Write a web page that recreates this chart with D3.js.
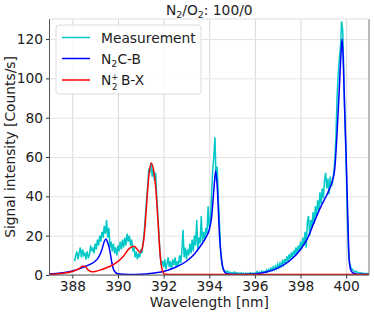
<!DOCTYPE html>
<html><head><meta charset="utf-8">
<script src="https://cdn.jsdelivr.net/npm/d3@7"></script>
<style>body{margin:0;background:#fff} text{font-family:"DejaVu Sans",sans-serif}</style>
</head><body><svg id="c" width="374" height="312"></svg>
<script>
const xTicks=[388,390,392,394,396,398,400];
const yTicks=[0,20,40,60,80,100,120];
const seriesNames=["Measurement","N2C-B","N2+ B-X"];
const measStart=388.1, measStep=0.05;
const measurement=[
7,10,12,8,11,14,9,13,10,11,8,12,9,10,15,12,14,11,16,13,
18,15,20,17,22,19,25,21,28,19,24,14,17,12,16,11,14,10,15,12,
17,13,18,14,19,15,21,17,20,15,18,12,14,9,12,8,11,9,13,11,
16,22,30,38,45,54,52,57,50,54,48,52,40,30,20,10,5,7,4,8,
3,6,9,4,7,3,8,5,9,4,7,5,10,6,12,23,9,14,8,13,
10,16,11,18,12,20,15,28,13,19,16,30,17,22,18,24,21,35,24,28,
40,53,60,70,48,55,38,26,12,6,3,2.5,2,1.5,2,1,1.5,1,
1.2,0.8,1.5,0.7,1.2,0.6,1.0,0.5,1.1,0.6,0.9,0.4,1.0,0.6,0.8,0.5,1.2,0.7,1.0,0.6,
1.1,0.8,1.8,0.9,1.4,1.0,2.0,1.2,1.8,1.3,2.5,1.6,2.8,2.0,3.5,2.2,4.0,2.8,4.5,3.2,
5.5,3.8,6.0,4.5,7.0,5.2,8.0,6.0,9.5,7.0,10.5,8.0,11.5,9.0,12.5,10.0,14,11,15,12,
17,13,19,15,22,14,27,30,20,28,24,32,26,35,30,38,33,42,36,44,
39,48,52,44,49,41,50,45,47,52,58,70,90,102,110,116,129,124,100,78,
56,30,12,6,4,3,2.5,2,1.5,1.8,1.2,1.0,1.3,0.8,1.0,0.7,0.9,0.6,0.8,0.5,0.6
];
const c2bWl=[387.0,387.5,388.0,388.5,388.8,389.0,389.15,389.3,389.4,389.47,389.55,389.65,389.72,389.8,389.9,390.0,390.5,391.0,391.5,392.0,392.5,393.0,393.3,393.6,393.85,394.0,394.1,394.2,394.28,394.35,394.45,394.55,394.65,394.75,395.0,395.5,396.0,396.5,397.0,397.5,398.0,398.3,398.6,398.9,399.2,399.4,399.5,399.6,399.7,399.78,399.82,399.87,399.93,400.0,400.07,400.13,400.2,400.3,400.5,401.0];
const c2bVal=[0.5,1.0,2.0,4.0,5.5,7,9,13,17,18.3,16.5,12,7,3,1.2,0.6,0.3,0.4,0.9,1.8,3.8,7,10,14.5,19,23,29,43,53,45,20,7,2,0.8,0.4,0.3,0.5,1.5,3.5,7,13,18.5,27,35,42,48,54,72,95,114,120,110,85,60,30,8,2.5,1,0.4,0.3];
const bxWl=[387.0,387.5,388.0,388.3,388.45,388.55,388.7,388.85,389.0,389.3,389.6,389.9,390.2,390.5,390.7,390.85,390.97,391.05,391.15,391.25,391.35,391.45,391.55,391.65,391.75,391.85,391.95,392.05,392.5,401.0];
const bxVal=[0.3,0.8,1.8,3.2,4.5,4.4,2.5,1.7,1.8,2.8,4.2,6,9,13.5,14.6,13,11.5,13,20,35,50,57,54,45,28,10,2,0.4,0.2,0.2];

const svg=d3.select("#c");
const L=49.5,R=369,T=19,B=275;
const x=d3.scaleLinear().domain([387,401]).range([L,R]);
const y=d3.scaleLinear().domain([0,130.2]).range([B,T]);
const FS=13.8, SFS=9.5;

// grid
const g=svg.append("g");
g.append("g").attr("transform",`translate(0,${B})`)
 .call(d3.axisBottom(x).tickValues(xTicks).tickSize(-(B-T)).tickFormat(""))
 .call(s=>{s.select(".domain").remove();s.selectAll("line").attr("stroke","#d9d9d9").attr("stroke-width",1);});
g.append("g").attr("transform",`translate(${L},0)`)
 .call(d3.axisLeft(y).tickValues(yTicks).tickSize(-(R-L)).tickFormat(""))
 .call(s=>{s.select(".domain").remove();s.selectAll("line").attr("stroke","#e3e3e3").attr("stroke-width",1);});

svg.append("clipPath").attr("id","clip").append("rect").attr("x",L).attr("y",T).attr("width",R-L).attr("height",B-T);

const measData=measurement.map((v,i)=>[measStart+i*measStep,v]);
const c2bData=c2bWl.map((w,i)=>[w,c2bVal[i]]);
const bxData=bxWl.map((w,i)=>[w,bxVal[i]]);
const line=d3.line().x(d=>x(d[0])).y(d=>y(d[1]));
const lineSmooth=d3.line().x(d=>x(d[0])).y(d=>y(d[1])).curve(d3.curveMonotoneX);
const pg=svg.append("g").attr("clip-path","url(#clip)");
pg.append("path").datum(measData).attr("d",line).attr("fill","none").attr("stroke","#00c8c8").attr("stroke-width",1.5);
pg.append("path").datum(c2bData).attr("d",lineSmooth).attr("fill","none").attr("stroke","#0000ff").attr("stroke-width",1.5);
pg.append("path").datum(bxData).attr("d",lineSmooth).attr("fill","none").attr("stroke","#ff0000").attr("stroke-width",1.5);

// axes
const ax=svg.append("g").attr("transform",`translate(0,${B})`)
 .call(d3.axisBottom(x).tickValues(xTicks).tickSize(3.5).tickPadding(3).tickFormat(d3.format("d")));
ax.select(".domain").remove();
ax.selectAll("text").attr("font-size",FS).attr("fill","#222").attr("font-family","DejaVu Sans");
ax.selectAll("line").attr("stroke","#333");
const ay=svg.append("g").attr("transform",`translate(${L},0)`)
 .call(d3.axisLeft(y).tickValues(yTicks).tickSize(3.5).tickPadding(3).tickFormat(d3.format("d")));
ay.select(".domain").remove();
ay.selectAll("text").attr("font-size",FS).attr("fill","#222").attr("font-family","DejaVu Sans");
ay.selectAll("line").attr("stroke","#333");

// spines
svg.append("line").attr("x1",L).attr("x2",L).attr("y1",T).attr("y2",B).attr("stroke","#555").attr("stroke-width",1);
svg.append("line").attr("x1",L).attr("x2",R).attr("y1",B).attr("y2",B).attr("stroke","#555").attr("stroke-width",1);
svg.append("line").attr("x1",R).attr("x2",R).attr("y1",T).attr("y2",B).attr("stroke","#777").attr("stroke-width",1);
svg.append("line").attr("x1",L).attr("x2",R).attr("y1",T).attr("y2",T).attr("stroke","#ddd").attr("stroke-width",1);

// title
const t=svg.append("text").attr("x",(L+R)/2).attr("y",15).attr("text-anchor","middle").attr("font-size",FS).attr("fill","#222");
t.append("tspan").text("N");
t.append("tspan").attr("font-size",SFS).attr("dy",3).text("2");
t.append("tspan").attr("dy",-3).text("/O");
t.append("tspan").attr("font-size",SFS).attr("dy",3).text("2");
t.append("tspan").attr("dy",-3).text(": 100/0");

// axis labels
svg.append("text").attr("x",(L+R)/2).attr("y",307).attr("text-anchor","middle").attr("font-size",FS).attr("fill","#222").text("Wavelength [nm]");
svg.append("text").attr("transform",`translate(15,${(T+B)/2}) rotate(-90)`).attr("text-anchor","middle").attr("font-size",FS).attr("fill","#222").text("Signal intensity [Counts/s]");

// legend
const lg=svg.append("g");
lg.append("rect").attr("x",56).attr("y",25).attr("width",145).attr("height",69).attr("rx",3)
  .attr("fill","#fff").attr("fill-opacity",0.85).attr("stroke","#dcdcdc");
const cols=["#00c8c8","#0000ff","#ff0000"];
const rows=[37.5,58.5,80];
rows.forEach((ry,i)=>{
  lg.append("line").attr("x1",62).attr("x2",90).attr("y1",ry).attr("y2",ry).attr("stroke",cols[i]).attr("stroke-width",1.5);
});
lg.append("text").attr("x",101).attr("y",rows[0]+5).attr("font-size",FS).attr("fill","#222").text(seriesNames[0]);
const l2=lg.append("text").attr("x",101).attr("y",rows[1]+5).attr("font-size",FS).attr("fill","#222");
l2.append("tspan").text("N");
l2.append("tspan").attr("font-size",SFS).attr("dy",3).text("2");
l2.append("tspan").attr("dy",-3).text("C-B");
const l3=lg.append("text").attr("x",101).attr("y",rows[2]+5).attr("font-size",FS).attr("fill","#222");
l3.append("tspan").text("N");
l3.append("tspan").attr("font-size",8.5).attr("dy",-5.5).text("+");
l3.append("tspan").attr("font-size",8.5).attr("dx",-6.5).attr("dy",10.5).text("2");
l3.append("tspan").attr("dx",3.5).attr("dy",-5).text("B-X");
</script></body></html>
